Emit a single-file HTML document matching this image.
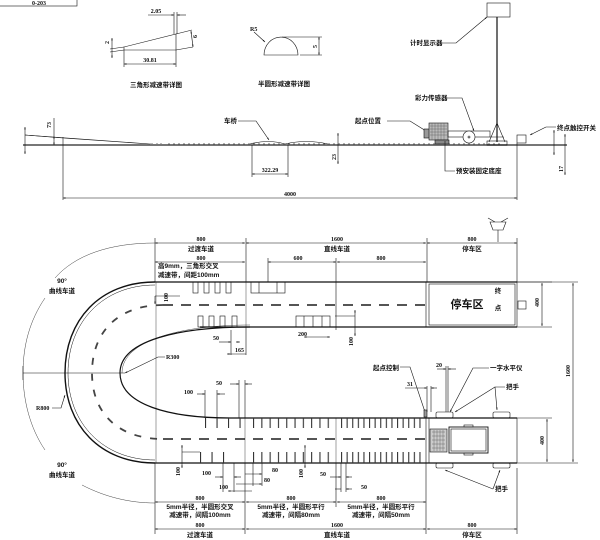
<!DOCTYPE html>
<html><head><meta charset="utf-8"><style>
html,body{margin:0;padding:0;background:#fff;}
svg{display:block;}
text{font-family:"Liberation Sans","Noto Sans CJK SC",sans-serif;font-weight:bold;fill:#111;}
.c{font-size:6.5px;}
.n{font-size:6px;font-family:"Liberation Serif","Noto Sans CJK SC",serif;}
</style></head><body>
<svg width="600" height="540" viewBox="0 0 600 540" xmlns="http://www.w3.org/2000/svg">
<defs>
<marker id="a" viewBox="0 0 10 10" refX="10" refY="5" markerWidth="5" markerHeight="4" orient="auto-start-reverse"><path d="M0,2 L10,5 L0,8z" fill="#111"/></marker>
<pattern id="p1" x="205" y="0" width="11.5" height="10" patternUnits="userSpaceOnUse"><rect x="0" y="0" width="1.1" height="10" fill="#333"/></pattern>
<pattern id="p2" x="253" y="0" width="8.3" height="10" patternUnits="userSpaceOnUse"><rect x="0" y="0" width="1.1" height="10" fill="#333"/></pattern>
<pattern id="p3" x="341" y="0" width="5.6" height="10" patternUnits="userSpaceOnUse"><rect x="0" y="0" width="1.1" height="10" fill="#333"/></pattern>
</defs>
<g stroke="#111" stroke-width="0.6" fill="none">
<!-- title box -->
<rect x="-1" y="-1" width="78" height="7"/>
<!-- triangle detail -->
<polygon points="124,47 176,34 176,50 124,50"/>
<line x1="110" y1="49" x2="124" y2="47"/><line x1="110" y1="52" x2="124" y2="50"/>
<line x1="112" y1="38" x2="112" y2="58" marker-start="url(#a)" marker-end="url(#a)"/>
<line x1="176" y1="34" x2="192" y2="30"/><line x1="176" y1="50" x2="193" y2="47"/>
<line x1="191" y1="31" x2="193" y2="47" marker-start="url(#a)" marker-end="url(#a)"/>
<line x1="174" y1="12" x2="174" y2="34"/><line x1="177" y1="12" x2="177" y2="34"/>
<line x1="148" y1="15" x2="174" y2="15" marker-end="url(#a)"/><line x1="186" y1="15" x2="177" y2="15" marker-end="url(#a)"/>
<line x1="124" y1="50" x2="124" y2="67"/><line x1="176" y1="50" x2="176" y2="67"/>
<line x1="124" y1="64" x2="176" y2="64" marker-start="url(#a)" marker-end="url(#a)"/>
<!-- semicircle detail -->
<path d="M264,55 A17,18 0 0 1 298,55 Z"/>
<line x1="254" y1="32" x2="265" y2="42" marker-end="url(#a)"/>
<line x1="282" y1="37" x2="322" y2="37"/><line x1="300" y1="55" x2="322" y2="55"/>
<line x1="319" y1="37" x2="319" y2="55" marker-start="url(#a)" marker-end="url(#a)"/>
<!-- side view -->
<line x1="23" y1="145" x2="567" y2="145" stroke="#777" stroke-width="2"/>
<path d="M25,135 L150,144 M63,138 L150,144"/>
<line x1="25" y1="135" x2="63" y2="138"/>
<line x1="63" y1="137" x2="63" y2="200"/>
<line x1="54" y1="136" x2="54" y2="145" marker-start="url(#a)" marker-end="url(#a)"/>
<line x1="54" y1="118" x2="54" y2="136"/>
<line x1="25" y1="127" x2="25" y2="154" marker-start="url(#a)" marker-end="url(#a)"/>
<path d="M250,144 Q268,139 285,144 Q306,139 328,144"/>
<line x1="252" y1="145" x2="252" y2="177"/><line x1="288" y1="145" x2="288" y2="177"/>
<line x1="252" y1="174" x2="288" y2="174" marker-start="url(#a)" marker-end="url(#a)"/>
<line x1="338" y1="133" x2="338" y2="164" marker-start="url(#a)" marker-end="url(#a)"/>
<path d="M238,121 L256,121 L269,140" marker-end="url(#a)"/>
<path d="M387,121 L410,121 L426,131" marker-end="url(#a)"/>
<!-- device -->
<rect x="424" y="129" width="6" height="9" fill="#999"/>
<rect x="429" y="123" width="19" height="17" fill="#bbb"/>
<path d="M430,126h17M430,129h17M430,132h17M430,135h17M432,123v17M435,123v17M438,123v17M441,123v17M444,123v17" stroke="#555" stroke-width="0.4"/>
<rect x="448" y="131" width="42" height="6"/>
<circle cx="469" cy="137" r="6" fill="#fff"/>
<circle cx="469" cy="137" r="1"/>
<rect x="435" y="140" width="14" height="4" fill="#888"/>
<line x1="497" y1="17" x2="497" y2="142" stroke-width="1.2"/>
<path d="M497,123 L489,142 M497,123 L505,142 M490,137 L504,137"/>
<rect x="487" y="141" width="20" height="4"/>
<rect x="487" y="3" width="23" height="14" fill="#fff"/>
<path d="M438,43 L456,43 L487,17" marker-end="url(#a)"/>
<path d="M445,98 L462,98 L474,131" marker-end="url(#a)"/>
<path d="M445,141 L445,171 L455,171"/>
<rect x="517" y="135" width="9" height="8" fill="#fff"/>
<path d="M556,127 L546,127 L530,135" marker-end="url(#a)"/>
<line x1="517" y1="143" x2="517" y2="200"/>
<line x1="554" y1="130" x2="554" y2="155" marker-start="url(#a)" marker-end="url(#a)"/>
<line x1="565" y1="134" x2="565" y2="175" marker-start="url(#a)" marker-end="url(#a)"/>
<line x1="63" y1="198" x2="517" y2="198" marker-start="url(#a)" marker-end="url(#a)"/>
</g>
<g fill="#777">
<rect x="150" y="143.5" width="3" height="1.5"/><rect x="156" y="143.5" width="2" height="1.5"/><rect x="160" y="143.5" width="2" height="1.5"/>
</g>
<line x1="168" y1="144" x2="500" y2="144" stroke="#333" stroke-width="0.8" stroke-dasharray="2 3"/>

<!-- plan view -->
<g stroke="#111" stroke-width="0.6" fill="none">
<!-- top dims -->
<line x1="155" y1="243" x2="245" y2="243" marker-start="url(#a)" marker-end="url(#a)"/>
<line x1="246" y1="243" x2="426" y2="243" marker-start="url(#a)" marker-end="url(#a)"/>
<line x1="427" y1="243" x2="517" y2="243" marker-start="url(#a)" marker-end="url(#a)"/>
<line x1="155" y1="262" x2="245" y2="262" marker-start="url(#a)" marker-end="url(#a)"/>
<line x1="268" y1="262" x2="336" y2="262" marker-start="url(#a)" marker-end="url(#a)"/>
<line x1="337" y1="262" x2="426" y2="262" marker-start="url(#a)" marker-end="url(#a)"/>
<line x1="155" y1="238" x2="155" y2="282"/><line x1="246" y1="238" x2="246" y2="282"/>
<line x1="427" y1="238" x2="427" y2="282"/><line x1="517" y1="238" x2="517" y2="282"/>
<line x1="268" y1="258" x2="268" y2="282"/><line x1="336" y1="258" x2="336" y2="330"/>
<!-- icon top right -->
<path d="M490,222 L506,222 L503,230 L493,230 Z M488,218 L495,222 M508,218 L501,222 M498,230 V242"/>
<!-- upper straight -->
<line x1="155" y1="282" x2="517" y2="282" stroke-width="1.2"/>
<line x1="200" y1="327" x2="517" y2="327" stroke-width="1.2"/>
<rect x="426" y="282" width="91" height="45"/>
<rect x="429" y="284" width="86" height="41"/>
<rect x="518" y="301" width="8" height="8"/>
<rect x="193" y="282" width="5" height="11"/><rect x="204" y="282" width="5" height="11"/>
<rect x="215" y="282" width="5" height="11"/><rect x="226" y="282" width="5" height="11"/>
<rect x="251" y="282" width="34" height="11"/><line x1="259" y1="282" x2="259" y2="293"/><line x1="277" y1="282" x2="277" y2="293"/>
<rect x="198" y="316" width="5" height="11"/><rect x="209" y="316" width="5" height="11"/>
<rect x="220" y="316" width="5" height="11"/><rect x="232" y="316" width="5" height="11"/>
<rect x="296" y="316" width="34" height="11"/><line x1="304" y1="316" x2="304" y2="327"/><line x1="313" y1="316" x2="313" y2="327"/><line x1="322" y1="316" x2="322" y2="327"/>
<line x1="156" y1="282" x2="156" y2="463" stroke-width="0.4"/>
<line x1="246" y1="282" x2="246" y2="327" stroke-width="0.4"/>
<line x1="155" y1="296" x2="180" y2="296"/><line x1="155" y1="296" x2="155" y2="304" marker-end="url(#a)"/>
<line x1="304" y1="337" x2="330" y2="337" marker-start="url(#a)" marker-end="url(#a)"/>
<line x1="335" y1="316" x2="355" y2="316"/><line x1="355" y1="310" x2="355" y2="336" marker-start="url(#a)" marker-end="url(#a)"/>
<line x1="219" y1="342" x2="231" y2="342" marker-end="url(#a)"/><line x1="240" y1="342" x2="236" y2="342" marker-end="url(#a)"/>
<line x1="231" y1="330" x2="231" y2="355"/><line x1="246" y1="327" x2="246" y2="355"/>
<line x1="227" y1="354" x2="246" y2="354" marker-start="url(#a)"/>
<!-- U curve -->
<path d="M155,282 C100,282 65,320 65,373 C65,425 100,463 155,463" stroke-width="1.4"/>
<path d="M155,285 C103,285 68,322 68,373 C68,423 103,460 155,460" stroke-width="0.5"/>
<path d="M250,327 C180,327 120,340 120,373 C120,405 170,418 230,418" stroke-width="1.2"/>
<path d="M250,325 C182,325 122,340 122,373" stroke-width="0.4"/>
<path d="M163,305 C120,305 92,330 92,373 C92,415 120,439 163,439" stroke="#444" stroke-width="1.8" stroke-dasharray="7 9"/>
<line x1="163" y1="305" x2="426" y2="305" stroke="#555" stroke-width="2" stroke-dasharray="10 8"/>
<line x1="163" y1="439" x2="426" y2="439" stroke="#555" stroke-width="2" stroke-dasharray="10 8"/>
<path d="M155,243 C110,243 75,255 55,278" stroke-width="0.4"/>
<path d="M45,298 C30,320 23,345 23,373 C23,400 30,428 45,450" stroke-width="0.4"/>
<path d="M82,485 C105,497 130,503 155,503" stroke-width="0.4"/>
<line x1="23" y1="373" x2="125" y2="373" stroke-width="0.5"/>
<line x1="23" y1="366" x2="23" y2="380"/>
<path d="M165,357 L158,357 L125,373" marker-end="url(#a)"/>
<path d="M52,408 L61,408 L65,395" marker-end="url(#a)"/>
<!-- lower straight -->
<line x1="230" y1="418" x2="517" y2="418" stroke-width="1.2"/>
<line x1="155" y1="463" x2="517" y2="463" stroke-width="1.2"/>
<rect x="426" y="418" width="91" height="45"/>
<line x1="429" y1="418" x2="429" y2="463"/>
<line x1="245" y1="418" x2="245" y2="463" stroke-width="0.4"/>
<line x1="336" y1="418" x2="336" y2="463" stroke-width="0.4"/>
<rect x="430" y="429" width="17" height="23" fill="#ccc"/>
<path d="M432,432h13M432,436h13M432,440h13M432,444h13M432,448h13M434,430v21M437,430v21M440,430v21M443,430v21" stroke="#555" stroke-width="0.4"/>
<rect x="449" y="427" width="39" height="26" stroke-width="0.9"/>
<rect x="451" y="429" width="35" height="22"/>
<rect x="464" y="425" width="9" height="2"/><rect x="464" y="453" width="9" height="2"/>
<rect x="436" y="412" width="17" height="6" rx="1.5"/><rect x="493" y="412" width="17" height="6" rx="1.5"/>
<rect x="436" y="463" width="17" height="5" rx="1.5"/><rect x="493" y="463" width="17" height="5" rx="1.5"/>
<!-- right dims -->
<line x1="517" y1="282" x2="552" y2="282"/><line x1="517" y1="327" x2="552" y2="327"/>
<line x1="542" y1="283" x2="542" y2="326" marker-start="url(#a)" marker-end="url(#a)"/>
<line x1="517" y1="282" x2="578" y2="282"/><line x1="517" y1="463" x2="578" y2="463"/>
<line x1="573" y1="283" x2="573" y2="462" marker-start="url(#a)" marker-end="url(#a)"/>
<line x1="517" y1="418" x2="552" y2="418"/>
<line x1="547" y1="419" x2="547" y2="462" marker-start="url(#a)" marker-end="url(#a)"/>
<!-- labels lower right -->
<path d="M400,367 L410,367 L425,412" marker-end="url(#a)"/>
<rect x="424" y="410" width="3" height="7" fill="#999"/>
<line x1="446" y1="366" x2="446" y2="412"/><line x1="448" y1="366" x2="448" y2="412"/>
<line x1="437" y1="369" x2="446" y2="369" marker-end="url(#a)"/><line x1="456" y1="369" x2="448" y2="369" marker-end="url(#a)"/>
<line x1="427" y1="386" x2="427" y2="412"/><line x1="431" y1="386" x2="431" y2="412"/>
<line x1="405" y1="388" x2="427" y2="388" marker-end="url(#a)"/><line x1="437" y1="388" x2="431" y2="388" marker-end="url(#a)"/>
<path d="M489,368 L473,368 L450,412" marker-end="url(#a)"/>
<path d="M505,387 L495,387 L497,410" marker-end="url(#a)"/>
<path d="M495,387 L455,412" marker-end="url(#a)"/>
<path d="M493,489 L445,470" marker-end="url(#a)"/>
<path d="M493,489 L500,470" marker-end="url(#a)"/>
<!-- bottom dims -->
<line x1="155" y1="502" x2="245" y2="502" marker-start="url(#a)" marker-end="url(#a)"/>
<line x1="246" y1="502" x2="336" y2="502" marker-start="url(#a)" marker-end="url(#a)"/>
<line x1="337" y1="502" x2="426" y2="502" marker-start="url(#a)" marker-end="url(#a)"/>
<line x1="155" y1="529" x2="245" y2="529" marker-start="url(#a)" marker-end="url(#a)"/>
<line x1="246" y1="529" x2="426" y2="529" marker-start="url(#a)" marker-end="url(#a)"/>
<line x1="427" y1="529" x2="517" y2="529" marker-start="url(#a)" marker-end="url(#a)"/>
<line x1="155" y1="463" x2="155" y2="534"/><line x1="245" y1="463" x2="245" y2="534"/>
<line x1="336" y1="463" x2="336" y2="507"/><line x1="426" y1="463" x2="426" y2="534"/>
<line x1="517" y1="468" x2="517" y2="534"/>
<!-- small dims lower -->
<line x1="205" y1="390" x2="205" y2="418"/><line x1="217" y1="390" x2="217" y2="418"/>
<line x1="197" y1="394" x2="205" y2="394" marker-end="url(#a)"/><line x1="225" y1="394" x2="217" y2="394" marker-end="url(#a)"/>
<line x1="239" y1="380" x2="239" y2="418"/><line x1="245" y1="380" x2="245" y2="418"/>
<line x1="230" y1="384" x2="239" y2="384" marker-end="url(#a)"/><line x1="252" y1="384" x2="245" y2="384" marker-end="url(#a)"/>
<line x1="182" y1="452" x2="200" y2="452"/><line x1="182" y1="445" x2="182" y2="468" marker-start="url(#a)" marker-end="url(#a)"/>
<line x1="223" y1="463" x2="223" y2="492"/><line x1="234" y1="463" x2="234" y2="492"/>
<line x1="215" y1="477" x2="223" y2="477" marker-end="url(#a)"/><line x1="241" y1="477" x2="234" y2="477" marker-end="url(#a)"/>
<line x1="228" y1="491" x2="252" y2="491" marker-start="url(#a)"/>
<line x1="253" y1="463" x2="253" y2="486"/><line x1="262" y1="463" x2="262" y2="486"/>
<line x1="245" y1="474" x2="262" y2="474" marker-end="url(#a)"/><line x1="236" y1="484" x2="262" y2="484" marker-end="url(#a)"/>
<line x1="305" y1="445" x2="305" y2="468" marker-start="url(#a)" marker-end="url(#a)"/>
<line x1="341" y1="463" x2="341" y2="492"/><line x1="346" y1="463" x2="346" y2="492"/>
<line x1="330" y1="477" x2="341" y2="477" marker-end="url(#a)"/><line x1="352" y1="477" x2="346" y2="477" marker-end="url(#a)"/>
<line x1="335" y1="489" x2="341" y2="489"/><line x1="352" y1="489" x2="346" y2="489" marker-end="url(#a)"/>
</g>
<!-- bump line patterns -->
<rect x="205" y="418" width="36" height="10" fill="url(#p1)"/>
<rect x="200" y="452" width="36" height="11" fill="url(#p1)" transform="translate(-5,0)"/>
<rect x="253" y="418" width="80" height="10" fill="url(#p2)"/>
<rect x="253" y="452" width="80" height="11" fill="url(#p2)"/>
<rect x="341" y="418" width="82" height="10" fill="url(#p3)"/>
<rect x="341" y="452" width="82" height="11" fill="url(#p3)"/>

<!-- TEXT -->
<text x="39" y="5" class="n" text-anchor="middle">0-203</text>
<text x="156" y="13" class="n" text-anchor="middle">2.05</text>
<text x="150" y="62" class="n" text-anchor="middle">30.81</text>
<text x="109" y="44" class="n" transform="rotate(-90 109 44)">2</text>
<text x="197" y="38" class="n" transform="rotate(-90 197 38)">6</text>
<text x="156" y="87" class="c" text-anchor="middle">三角形减速带详图</text>
<text x="250" y="31" class="n">R5</text>
<text x="317" y="48" class="n" transform="rotate(-90 317 48)">5</text>
<text x="284" y="86" class="c" text-anchor="middle">半圆形减速带详图</text>
<text x="410" y="45" class="c">计时显示器</text>
<text x="415" y="100" class="c">彩力传感器</text>
<text x="224" y="123" class="c">车桥</text>
<text x="355" y="123" class="c">起点位置</text>
<text x="456" y="173" class="c">预安装固定底座</text>
<text x="557" y="130" class="c">终点触控开关</text>
<text x="51" y="128" class="n" transform="rotate(-90 51 128)">73</text>
<text x="270" y="172" class="n" text-anchor="middle">322.29</text>
<text x="336" y="160" class="n" transform="rotate(-90 336 160)">23</text>
<text x="563" y="172" class="n" transform="rotate(-90 563 172)">17</text>
<text x="290" y="196" class="n" text-anchor="middle">4000</text>

<text x="201" y="241" class="n" text-anchor="middle">800</text>
<text x="201" y="251" class="c" text-anchor="middle">过渡车道</text>
<text x="337" y="241" class="n" text-anchor="middle">1600</text>
<text x="337" y="251" class="c" text-anchor="middle">直线车道</text>
<text x="472" y="241" class="n" text-anchor="middle">800</text>
<text x="472" y="251" class="c" text-anchor="middle">停车区</text>
<text x="201" y="260" class="n" text-anchor="middle">800</text>
<text x="298" y="260" class="n" text-anchor="middle">600</text>
<text x="381" y="260" class="n" text-anchor="middle">800</text>
<text x="158" y="268" class="c">高9mm，三角形交叉</text>
<text x="158" y="277" class="c">减速带，间距100mm</text>
<text x="62" y="283" class="c" text-anchor="middle">90°</text>
<text x="62" y="293" class="c" text-anchor="middle">曲线车道</text>
<text x="62" y="467" class="c" text-anchor="middle">90°</text>
<text x="62" y="477" class="c" text-anchor="middle">曲线车道</text>
<text x="168" y="302" class="n" transform="rotate(-90 168 302)">100</text>
<text x="298" y="336" class="n">200</text>
<text x="353" y="346" class="n" transform="rotate(-90 353 346)">100</text>
<text x="213" y="340" class="n">50</text>
<text x="235" y="352" class="n">165</text>
<text x="166" y="359" class="n">R300</text>
<text x="36" y="410" class="n">R800</text>
<text x="467" y="308" style="font-size:11px" text-anchor="middle">停车区</text>
<text x="498" y="293" class="c" text-anchor="middle">终</text>
<text x="498" y="310" class="c" text-anchor="middle">点</text>
<text x="539" y="307" class="n" transform="rotate(-90 539 307)">400</text>
<text x="570" y="377" class="n" transform="rotate(-90 570 377)">1600</text>
<text x="544" y="445" class="n" transform="rotate(-90 544 445)">400</text>
<text x="373" y="370" class="c">起点控制</text>
<text x="436" y="367" class="n">20</text>
<text x="490" y="370" class="c">一字水平仪</text>
<text x="407" y="386" class="n">31</text>
<text x="506" y="389" class="c">把手</text>
<text x="495" y="491" class="c">把手</text>
<text x="184" y="394" class="n">100</text>
<text x="216" y="385" class="n">50</text>
<text x="180" y="476" class="n" transform="rotate(-90 180 476)">100</text>
<text x="202" y="475" class="n">100</text>
<text x="219" y="489" class="n">100</text>
<text x="272" y="472" class="n">80</text>
<text x="264" y="482" class="n">80</text>
<text x="303" y="478" class="n" transform="rotate(-90 303 478)">100</text>
<text x="320" y="476" class="n">50</text>
<text x="361" y="489" class="n">50</text>
<text x="200" y="500" class="n" text-anchor="middle">800</text>
<text x="200" y="509" class="c" text-anchor="middle">5mm半径，半圆形交叉</text>
<text x="200" y="517" class="c" text-anchor="middle">减速带，间隔100mm</text>
<text x="291" y="500" class="n" text-anchor="middle">800</text>
<text x="291" y="509" class="c" text-anchor="middle">5mm半径，半圆形平行</text>
<text x="291" y="517" class="c" text-anchor="middle">减速带，间隔80mm</text>
<text x="381" y="500" class="n" text-anchor="middle">800</text>
<text x="381" y="509" class="c" text-anchor="middle">5mm半径，半圆形平行</text>
<text x="381" y="517" class="c" text-anchor="middle">减速带，间隔50mm</text>
<text x="200" y="527" class="n" text-anchor="middle">800</text>
<text x="200" y="537" class="c" text-anchor="middle">过渡车道</text>
<text x="337" y="527" class="n" text-anchor="middle">1600</text>
<text x="337" y="537" class="c" text-anchor="middle">直线车道</text>
<text x="472" y="527" class="n" text-anchor="middle">800</text>
<text x="472" y="537" class="c" text-anchor="middle">停车区</text>
</svg>
</body></html>
